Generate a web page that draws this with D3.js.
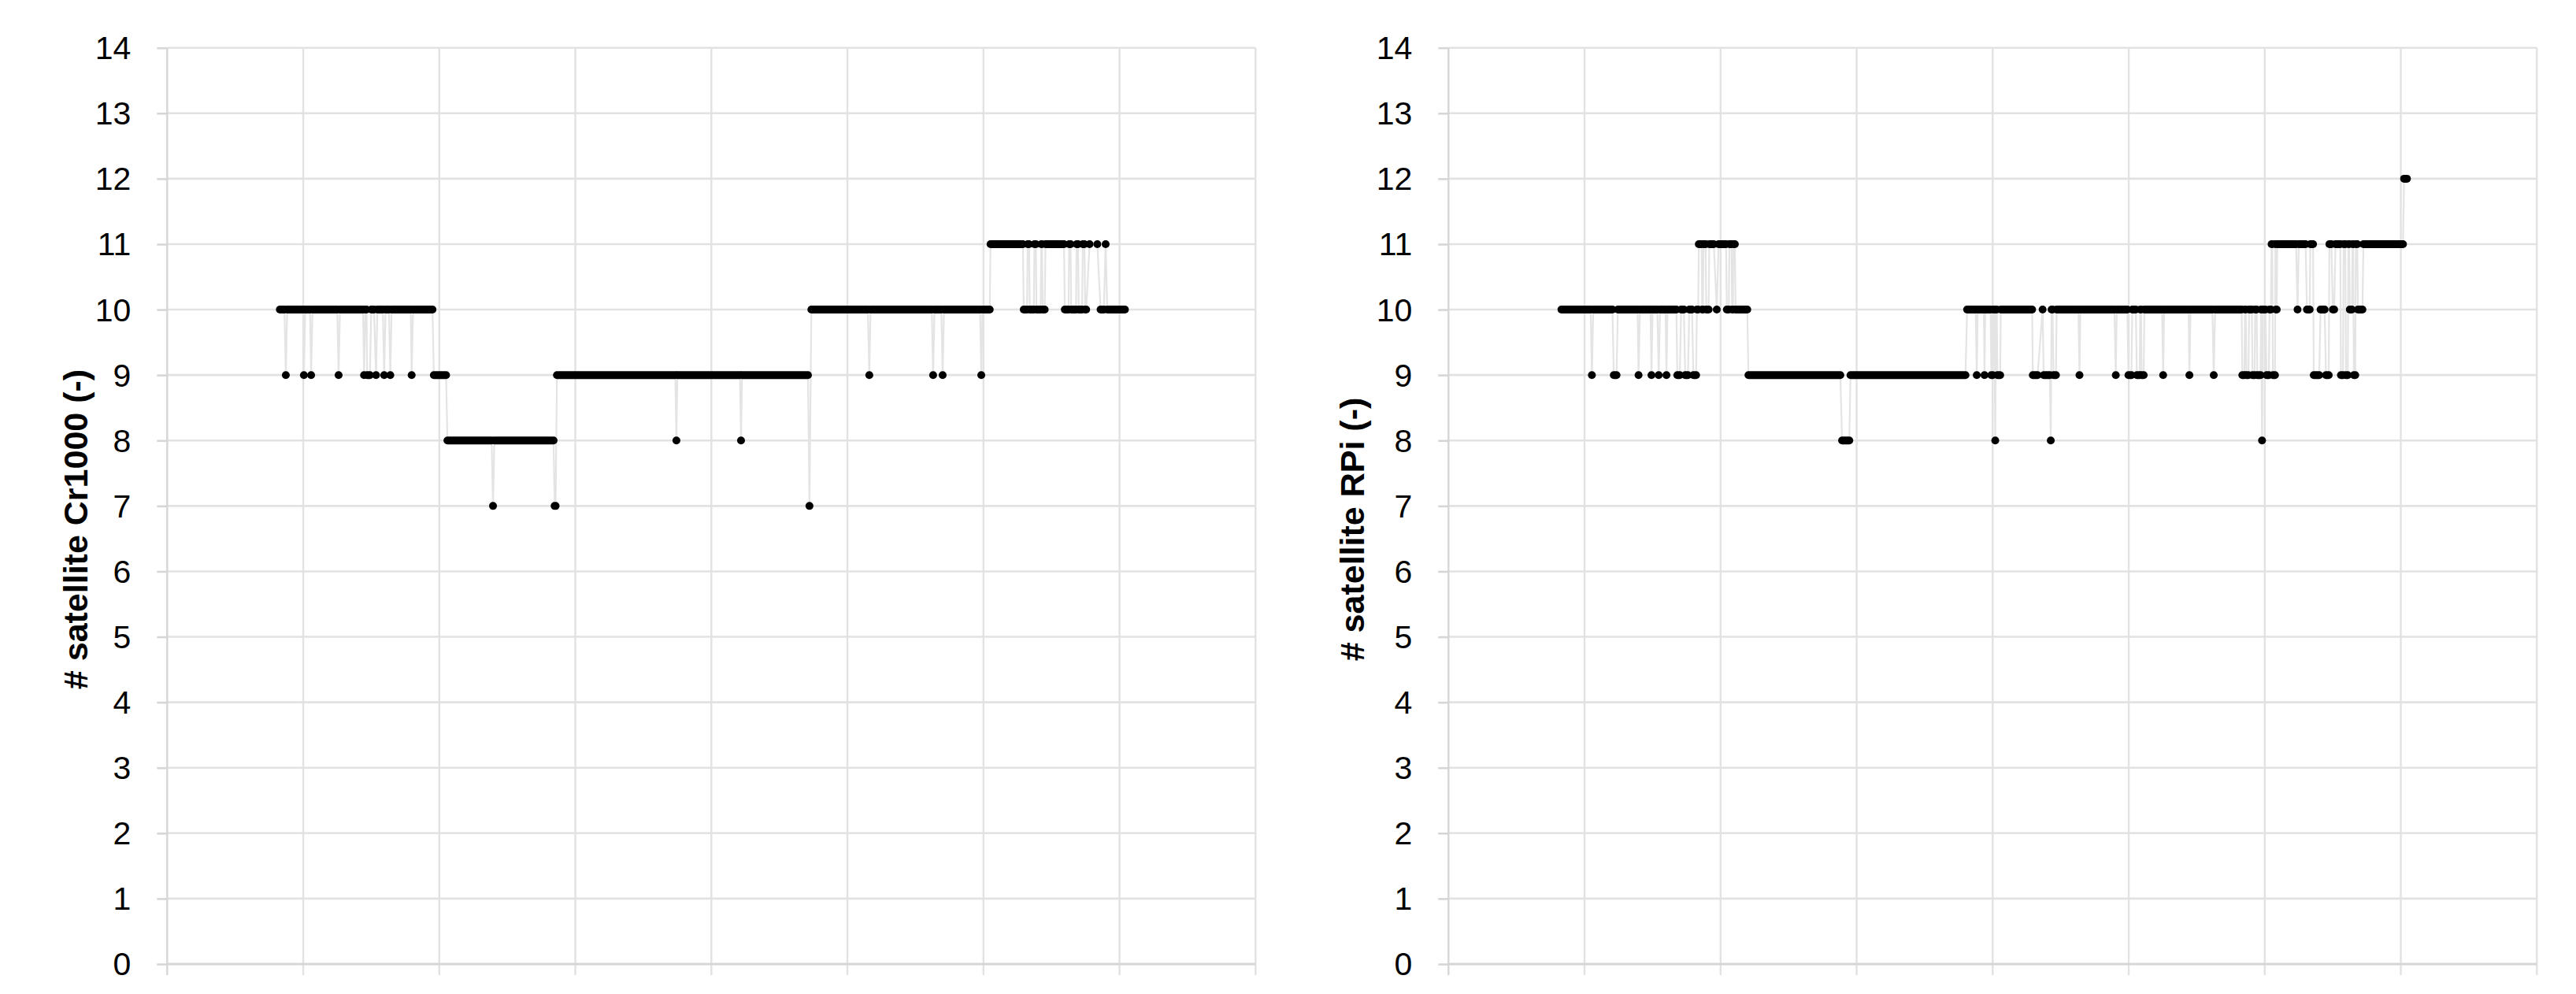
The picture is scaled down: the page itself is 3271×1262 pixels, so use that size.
<!DOCTYPE html>
<html>
<head>
<meta charset="utf-8">
<script src="https://cdn.jsdelivr.net/npm/d3@7"></script>
<style>
  html, body { margin: 0; padding: 0; background: #ffffff; }
  svg { display: block; }
</style>
</head>
<body>
<svg id="chart" width="3271" height="1262"></svg>
<script>
// ---------------- DATA ----------------
// x positions are in units of the (unlabelled) x grid, 0..8
const xTicks = [0, 1, 2, 3, 4, 5, 6, 7, 8];
const yTicks = [0, 1, 2, 3, 4, 5, 6, 7, 8, 9, 10, 11, 12, 13, 14];

const titleLeft = "# satellite Cr1000 (-)";
const titleRight = "# satellite RPi (-)";

// runs of constant value: [xStart, xEnd, satellites]
const leftRuns = [
  [0.828, 0.862, 10], [0.872, 0.872, 9], [0.882, 1.000, 10], [1.005, 1.005, 9],
  [1.015, 1.050, 10], [1.058, 1.058, 9], [1.068, 1.250, 10], [1.260, 1.260, 9],
  [1.270, 1.440, 10], [1.447, 1.447, 9], [1.457, 1.465, 10], [1.470, 1.490, 9],
  [1.500, 1.520, 10], [1.535, 1.535, 9], [1.545, 1.585, 10], [1.595, 1.595, 9],
  [1.605, 1.630, 10], [1.640, 1.640, 9], [1.650, 1.790, 10], [1.797, 1.797, 9],
  [1.807, 1.950, 10], [1.960, 2.050, 9], [2.060, 2.385, 8], [2.395, 2.395, 7],
  [2.405, 2.840, 8], [2.848, 2.855, 7], [2.865, 3.735, 9], [3.743, 3.743, 8],
  [3.750, 4.210, 9], [4.218, 4.218, 8], [4.225, 4.710, 9], [4.721, 4.721, 7],
  [4.735, 5.150, 10], [5.161, 5.161, 9], [5.170, 5.620, 10], [5.630, 5.630, 9],
  [5.640, 5.690, 10], [5.700, 5.700, 9], [5.710, 5.975, 10], [5.984, 5.984, 9],
  [5.993, 6.046, 10], [6.052, 6.290, 11], [6.296, 6.320, 10], [6.325, 6.335, 11],
  [6.340, 6.370, 10], [6.375, 6.385, 11], [6.390, 6.420, 10], [6.425, 6.430, 11],
  [6.435, 6.450, 10], [6.456, 6.592, 11], [6.598, 6.625, 10], [6.630, 6.640, 11],
  [6.645, 6.680, 10], [6.685, 6.695, 11], [6.700, 6.725, 10], [6.730, 6.742, 11],
  [6.748, 6.755, 10], [6.780, 6.780, 11], [6.837, 6.837, 11], [6.861, 6.885, 10],
  [6.898, 6.898, 11], [6.910, 7.040, 10]
];

const rightRuns = [
  [0.830, 1.045, 10], [1.054, 1.054, 9], [1.064, 1.205, 10], [1.215, 1.235, 9],
  [1.245, 1.390, 10], [1.397, 1.397, 9], [1.407, 1.485, 10], [1.492, 1.492, 9],
  [1.500, 1.535, 10], [1.545, 1.545, 9], [1.555, 1.595, 10], [1.602, 1.602, 9],
  [1.610, 1.675, 10], [1.682, 1.700, 9], [1.710, 1.730, 10], [1.740, 1.760, 9],
  [1.770, 1.790, 10], [1.800, 1.820, 9], [1.826, 1.835, 10], [1.840, 1.860, 11],
  [1.865, 1.870, 10], [1.875, 1.890, 11], [1.895, 1.912, 10], [1.917, 1.950, 11],
  [1.972, 1.972, 10], [1.985, 2.040, 11], [2.046, 2.060, 10], [2.065, 2.080, 11],
  [2.085, 2.090, 10], [2.095, 2.105, 11], [2.110, 2.196, 10], [2.205, 2.880, 9],
  [2.893, 2.946, 8], [2.955, 3.800, 9], [3.812, 3.875, 10], [3.883, 3.883, 9],
  [3.890, 3.935, 10], [3.940, 3.940, 9], [3.945, 3.985, 10], [3.990, 4.000, 9],
  [4.005, 4.012, 10], [4.019, 4.019, 8], [4.025, 4.030, 10], [4.035, 4.055, 9],
  [4.060, 4.290, 10], [4.295, 4.330, 9], [4.367, 4.367, 10], [4.375, 4.420, 9],
  [4.427, 4.427, 8], [4.433, 4.440, 10], [4.447, 4.465, 9], [4.470, 4.630, 10],
  [4.638, 4.638, 9], [4.645, 4.895, 10], [4.905, 4.905, 9], [4.912, 4.990, 10],
  [4.998, 5.020, 9], [5.026, 5.052, 10], [5.060, 5.080, 9], [5.085, 5.090, 10],
  [5.095, 5.110, 9], [5.115, 5.245, 10], [5.253, 5.253, 9], [5.260, 5.440, 10],
  [5.446, 5.446, 9], [5.455, 5.615, 10], [5.625, 5.625, 9], [5.635, 5.830, 10],
  [5.835, 5.850, 9], [5.855, 5.860, 10], [5.865, 5.880, 9], [5.885, 5.905, 10],
  [5.910, 5.925, 9], [5.930, 5.940, 10], [5.945, 5.969, 9], [5.973, 5.973, 10],
  [5.980, 5.980, 8], [5.987, 6.005, 10], [6.013, 6.030, 9], [6.035, 6.045, 10],
  [6.050, 6.055, 11], [6.060, 6.075, 9], [6.078, 6.078, 11], [6.082, 6.088, 10],
  [6.092, 6.230, 11], [6.241, 6.241, 10], [6.250, 6.300, 11], [6.310, 6.330, 10],
  [6.335, 6.355, 11], [6.360, 6.400, 9], [6.410, 6.440, 10], [6.450, 6.470, 9],
  [6.475, 6.490, 11], [6.500, 6.510, 10], [6.520, 6.555, 11], [6.560, 6.575, 9],
  [6.580, 6.592, 11], [6.597, 6.610, 9], [6.615, 6.620, 11], [6.625, 6.640, 10],
  [6.645, 6.650, 11], [6.655, 6.665, 9], [6.670, 6.680, 11], [6.685, 6.718, 10],
  [6.725, 7.016, 11], [7.024, 7.045, 12]
];

// ---------------- LAYOUT ----------------
const svg = d3.select("#chart");
const panels = [
  { runs: leftRuns,  title: titleLeft,  left: 212.3,  titleX: 96 },
  { runs: rightRuns, title: titleRight, left: 1839.3, titleX: 1717 }
];
const plotW = 1382, plotTop = 60.7, plotH = 1163.3;

const x = d3.scaleLinear().domain([0, 8]).range([0, plotW]);
const y = d3.scaleLinear().domain([0, 14]).range([plotH, 0]);

const gridColor = "#e2e2e2", axisColor = "#d6d6d6";
const fontFam = "'Liberation Sans', Arial, Helvetica, sans-serif";

panels.forEach(p => {
  const g = svg.append("g").attr("transform", `translate(${p.left},${plotTop})`);

  // horizontal gridlines
  g.append("g").selectAll("line").data(yTicks.filter(d => d > 0)).join("line")
    .attr("x1", 0).attr("x2", plotW)
    .attr("y1", d => y(d)).attr("y2", d => y(d))
    .attr("stroke", gridColor).attr("stroke-width", 2.6);

  // vertical gridlines (extend below the baseline as tick marks)
  g.append("g").selectAll("line").data(xTicks.filter(d => d > 0)).join("line")
    .attr("x1", d => x(d)).attr("x2", d => x(d))
    .attr("y1", 0).attr("y2", plotH + 14)
    .attr("stroke", gridColor).attr("stroke-width", 2.4);

  // baseline
  g.append("line").attr("x1", 0).attr("x2", plotW)
    .attr("y1", y(0)).attr("y2", y(0))
    .attr("stroke", axisColor).attr("stroke-width", 3.2);

  // left axis line
  g.append("line").attr("x1", 0).attr("x2", 0)
    .attr("y1", 0).attr("y2", plotH + 14)
    .attr("stroke", axisColor).attr("stroke-width", 2.4);

  // y axis with ticks & labels
  const ya = g.append("g").call(
    d3.axisLeft(y).tickValues(yTicks).tickSize(13).tickPadding(33).tickFormat(d3.format("d"))
  );
  ya.select(".domain").remove();
  ya.selectAll(".tick line").attr("stroke", axisColor).attr("stroke-width", 2.6);
  ya.selectAll(".tick text")
    .attr("fill", "#000").attr("font-size", 41).attr("font-family", fontFam)
    .attr("dy", "0.34em");

  // y axis title
  svg.append("text")
    .attr("transform", `translate(${p.titleX},672) rotate(-90)`)
    .attr("text-anchor", "middle").attr("dominant-baseline", "central")
    .attr("font-family", fontFam).attr("font-weight", "bold")
    .attr("font-size", 43).attr("fill", "#000")
    .text(p.title);

  // connecting line through consecutive samples
  const pts = [];
  p.runs.forEach(r => { pts.push([r[0], r[2]]); if (r[1] > r[0]) pts.push([r[1], r[2]]); });
  g.append("path").datum(pts)
    .attr("d", d3.line().x(d => x(d[0])).y(d => y(d[1])))
    .attr("fill", "none").attr("stroke", "#e4e4e4").attr("stroke-width", 2.2);

  // markers: dense runs of points as round-capped bars, single points as dots
  const dia = 10;
  g.append("g").selectAll("line").data(p.runs.filter(r => r[1] > r[0])).join("line")
    .attr("x1", r => x(r[0])).attr("x2", r => x(r[1]))
    .attr("y1", r => y(r[2])).attr("y2", r => y(r[2]))
    .attr("stroke", "#000").attr("stroke-width", dia).attr("stroke-linecap", "round");
  g.append("g").selectAll("circle").data(p.runs.filter(r => r[1] === r[0])).join("circle")
    .attr("cx", r => x(r[0])).attr("cy", r => y(r[2]))
    .attr("r", dia / 2).attr("fill", "#000");
});
</script>
</body>
</html>
